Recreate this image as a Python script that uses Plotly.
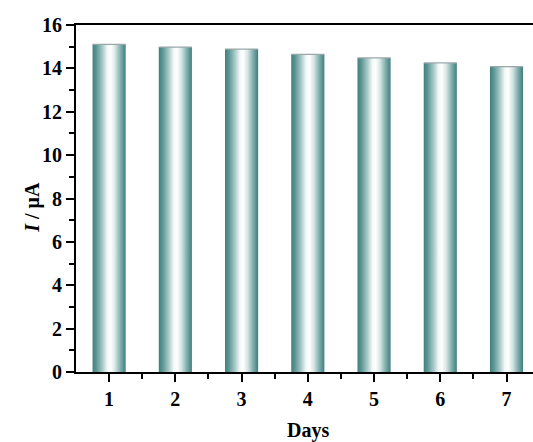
import plotly.graph_objects as go

days = [1, 2, 3, 4, 5, 6, 7]
current = [15.11, 14.98, 14.89, 14.65, 14.48, 14.25, 14.08]
tick_labels = ["1", "2", "3", "4", "5", "6", "7"]
y_ticks = [0, 2, 4, 6, 8, 10, 12, 14, 16]

bar_half = 0.25
teal = "#3f7f7d"
cscale = [
    [0.0, teal],
    [0.12, "#5e9795"],
    [0.3, "#a9c9c8"],
    [0.45, "#f4f8f8"],
    [0.55, "#ffffff"],
    [0.68, "#d6e6e5"],
    [0.85, "#7eadab"],
    [1.0, teal],
]

fig = go.Figure()
for d, v in zip(days, current):
    xs = [d - bar_half, d - bar_half, d + bar_half, d + bar_half, d - bar_half]
    ys = [0, v, v, 0, 0]
    fig.add_trace(go.Scatter(
        x=xs, y=ys, mode="lines", fill="toself",
        line=dict(width=0, color="rgba(0,0,0,0)"),
        fillgradient=dict(type="horizontal", colorscale=cscale),
        showlegend=False, hoverinfo="skip",
    ))
    fig.add_trace(go.Scatter(
        x=[d - bar_half, d + bar_half], y=[v, v], mode="lines",
        line=dict(width=1.2, color="#9aa8a8"),
        showlegend=False, hoverinfo="skip",
    ))

font_family = "Liberation Serif"
tfont = dict(family=font_family, size=20, color="black", weight="bold")

fig.update_layout(
    width=533, height=442,
    margin=dict(l=76, r=0, t=25, b=70),
    plot_bgcolor="white", paper_bgcolor="white",
    font=dict(family=font_family, size=20, color="black"),
    xaxis=dict(
        range=[0.5, 7.4], tickvals=days, ticktext=tick_labels,
        showgrid=False, zeroline=False,
        showline=True, linecolor="black", linewidth=2, mirror=True,
        ticks="outside", ticklen=8, tickwidth=2, tickcolor="black",
        tickfont=tfont,
        minor=dict(tickvals=[1.5, 2.5, 3.5, 4.5, 5.5, 6.5], ticks="outside",
                   ticklen=5, tickwidth=2, tickcolor="black"),
    ),
    yaxis=dict(
        range=[0, 16], tickvals=y_ticks,
        showgrid=False, zeroline=False,
        showline=True, linecolor="black", linewidth=2,
        ticks="outside", ticklen=8, tickwidth=2, tickcolor="black",
        tickfont=tfont,
        minor=dict(tickvals=[1, 3, 5, 7, 9, 11, 13, 15], ticks="outside",
                   ticklen=5, tickwidth=2, tickcolor="black"),
    ),
    annotations=[
        dict(text="Days", xref="x", x=4, yref="paper", y=-0.17,
             xanchor="center", yanchor="middle", showarrow=False,
             font=tfont),
        dict(text="<i>I</i> / μA", xref="paper", x=-0.095, yref="y", y=7.6,
             xanchor="center", yanchor="middle", showarrow=False, textangle=-90,
             font=tfont),
    ],
)

fig.write_html("out.html")
